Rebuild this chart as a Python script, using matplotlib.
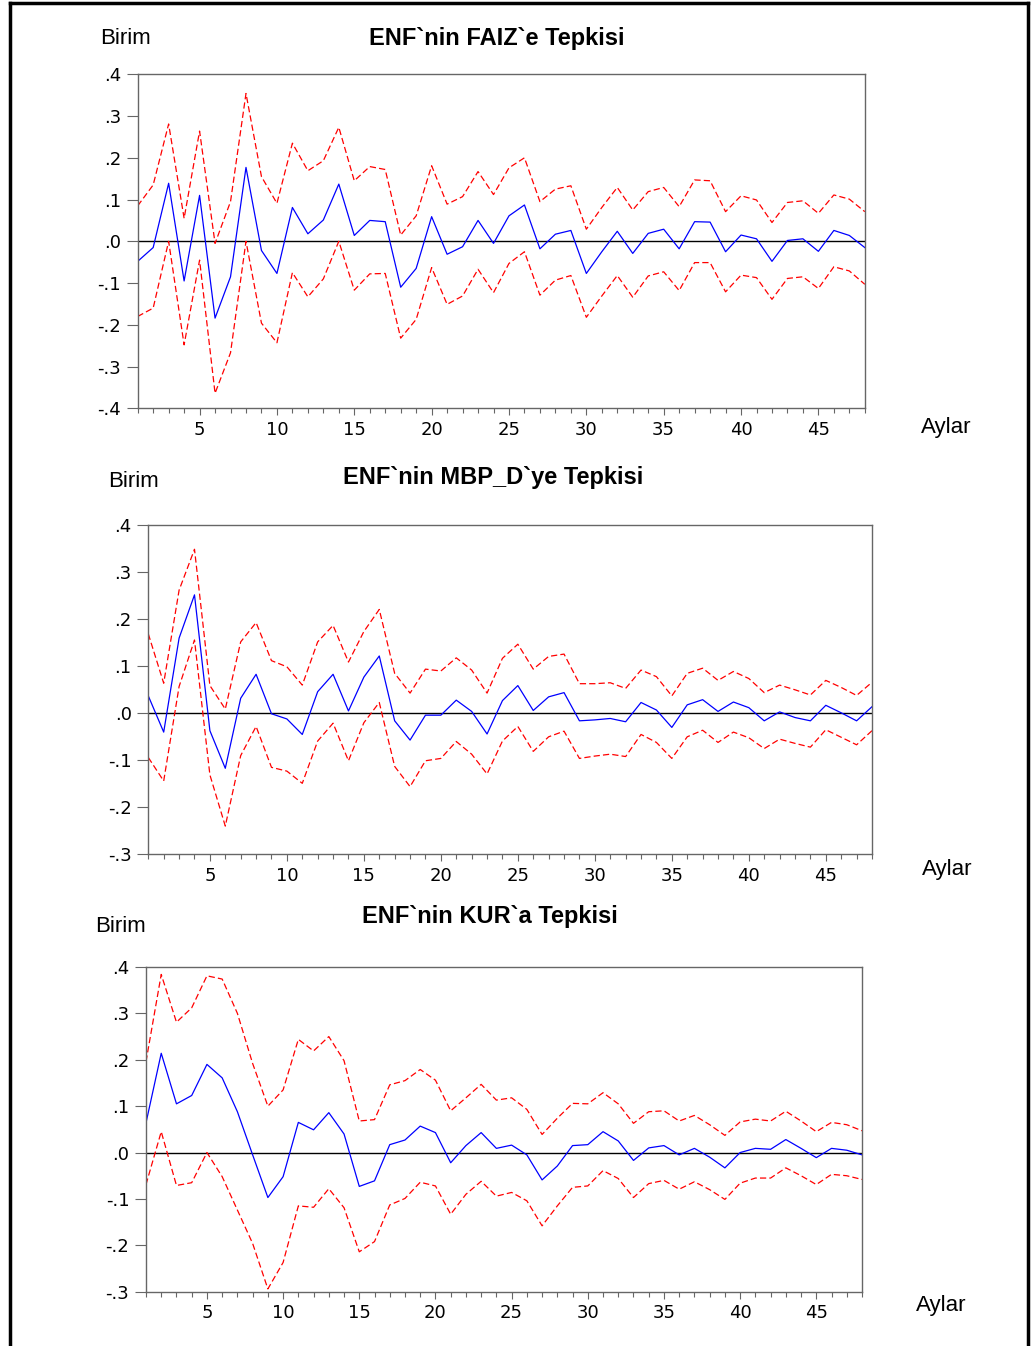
import numpy as np
import matplotlib.pyplot as plt
from matplotlib.lines import Line2D
from matplotlib.ticker import FixedLocator, FuncFormatter

plt.rcParams['font.family'] = ['DejaVu Sans']

# Aylar (months) 1..48
months = np.arange(1, 49)

# ENF'nin FAIZ'e Tepkisi
faiz_resp = [-0.048, -0.015, 0.139, -0.095, 0.110, -0.184, -0.085, 0.177, -0.022, -0.077,
             0.081, 0.018, 0.051, 0.137, 0.014, 0.050, 0.047, -0.110, -0.065, 0.059,
             -0.031, -0.013, 0.050, -0.005, 0.061, 0.087, -0.018, 0.017, 0.026, -0.077,
             -0.025, 0.024, -0.029, 0.019, 0.029, -0.018, 0.047, 0.046, -0.025, 0.015,
             0.006, -0.048, 0.002, 0.006, -0.024, 0.026, 0.014, -0.015]
faiz_upper = [0.085, 0.135, 0.281, 0.055, 0.264, -0.005, 0.095, 0.354, 0.155, 0.091,
              0.235, 0.169, 0.193, 0.273, 0.145, 0.179, 0.172, 0.015, 0.061, 0.181,
              0.089, 0.107, 0.167, 0.112, 0.176, 0.200, 0.095, 0.125, 0.133, 0.029,
              0.081, 0.129, 0.075, 0.119, 0.129, 0.083, 0.147, 0.145, 0.071, 0.109,
              0.099, 0.045, 0.093, 0.097, 0.067, 0.111, 0.101, 0.071]
faiz_lower = [-0.180, -0.160, 0.000, -0.248, -0.045, -0.364, -0.267, 0.000, -0.196, -0.243,
              -0.075, -0.133, -0.090, 0.000, -0.117, -0.078, -0.077, -0.232, -0.187, -0.063,
              -0.151, -0.131, -0.067, -0.123, -0.053, -0.025, -0.129, -0.093, -0.082, -0.182,
              -0.131, -0.082, -0.134, -0.083, -0.073, -0.118, -0.051, -0.051, -0.121, -0.081,
              -0.087, -0.139, -0.089, -0.085, -0.113, -0.061, -0.071, -0.103]

# ENF'nin MBP_D'ye Tepkisi
mbp_resp = [0.037, -0.040, 0.160, 0.252, -0.037, -0.117, 0.032, 0.083, -0.001, -0.012,
            -0.045, 0.046, 0.083, 0.005, 0.077, 0.122, -0.016, -0.057, -0.004, -0.004,
            0.028, 0.004, -0.044, 0.027, 0.059, 0.006, 0.035, 0.044, -0.016, -0.014,
            -0.011, -0.018, 0.023, 0.007, -0.030, 0.018, 0.029, 0.004, 0.024, 0.012,
            -0.016, 0.003, -0.009, -0.016, 0.017, 0.001, -0.016, 0.014]
mbp_upper = [0.169, 0.064, 0.262, 0.349, 0.059, 0.009, 0.152, 0.193, 0.112, 0.099,
             0.060, 0.152, 0.187, 0.109, 0.174, 0.221, 0.085, 0.043, 0.094, 0.090,
             0.118, 0.092, 0.043, 0.117, 0.147, 0.094, 0.121, 0.126, 0.063, 0.063,
             0.065, 0.053, 0.092, 0.078, 0.037, 0.085, 0.096, 0.070, 0.089, 0.074,
             0.044, 0.060, 0.050, 0.039, 0.070, 0.055, 0.038, 0.066]
mbp_lower = [-0.094, -0.144, 0.057, 0.156, -0.131, -0.240, -0.090, -0.028, -0.115, -0.123,
             -0.149, -0.059, -0.021, -0.101, -0.020, 0.023, -0.113, -0.156, -0.101, -0.096,
             -0.060, -0.087, -0.129, -0.059, -0.028, -0.081, -0.050, -0.038, -0.096, -0.091,
             -0.087, -0.092, -0.045, -0.062, -0.096, -0.050, -0.036, -0.062, -0.040, -0.052,
             -0.075, -0.055, -0.064, -0.072, -0.035, -0.051, -0.067, -0.037]

# ENF'nin KUR'a Tepkisi
kur_resp = [0.064, 0.214, 0.105, 0.123, 0.190, 0.161, 0.088, -0.005, -0.097, -0.052,
            0.065, 0.049, 0.086, 0.040, -0.073, -0.061, 0.017, 0.027, 0.057, 0.043,
            -0.022, 0.015, 0.043, 0.009, 0.016, -0.005, -0.059, -0.029, 0.015, 0.017,
            0.045, 0.025, -0.017, 0.010, 0.015, -0.005, 0.009, -0.010, -0.033, 0.000,
            0.009, 0.007, 0.028, 0.009, -0.011, 0.009, 0.005, -0.005]
kur_upper = [0.196, 0.384, 0.281, 0.312, 0.381, 0.374, 0.300, 0.192, 0.100, 0.135,
             0.244, 0.219, 0.250, 0.198, 0.068, 0.071, 0.146, 0.155, 0.179, 0.156,
             0.090, 0.118, 0.147, 0.113, 0.118, 0.093, 0.039, 0.074, 0.106, 0.105,
             0.129, 0.105, 0.063, 0.088, 0.090, 0.068, 0.080, 0.060, 0.037, 0.066,
             0.072, 0.068, 0.089, 0.068, 0.045, 0.065, 0.060, 0.047]
kur_lower = [-0.069, 0.045, -0.071, -0.065, 0.000, -0.052, -0.124, -0.196, -0.294, -0.237,
             -0.115, -0.118, -0.078, -0.119, -0.214, -0.192, -0.113, -0.099, -0.064, -0.072,
             -0.133, -0.090, -0.062, -0.094, -0.086, -0.104, -0.158, -0.115, -0.075, -0.072,
             -0.039, -0.056, -0.097, -0.067, -0.060, -0.079, -0.063, -0.080, -0.101, -0.066,
             -0.055, -0.055, -0.033, -0.050, -0.069, -0.047, -0.050, -0.058]

titles = ["ENF`nin FAIZ`e Tepkisi", "ENF`nin MBP_D`ye Tepkisi", "ENF`nin KUR`a Tepkisi"]
panels = [(faiz_resp, faiz_upper, faiz_lower),
          (mbp_resp, mbp_upper, mbp_lower),
          (kur_resp, kur_upper, kur_lower)]
ylims = [(-0.4, 0.4), (-0.3, 0.4), (-0.3, 0.4)]

W, H = 1035, 1346
fig = plt.figure(figsize=(W / 100, H / 100), dpi=100)


def box(x0, x1, ytop, ybot):
    return [x0 / W, 1 - ybot / H, (x1 - x0) / W, (ybot - ytop) / H]


# axes placement (pixels) and label positions
ax_boxes = [box(137.7, 864.8, 74.3, 408.3),
            box(148.3, 872.0, 525.3, 854.3),
            box(146.0, 862.0, 967.0, 1291.7)]
title_pos = [(497, 38), (493, 477), (490, 917)]
birim_pos = [(100, 38), (108, 481), (95, 927)]
aylar_pos = [(921, 428), (922, 870), (916, 1305)]

spine_col = '#666666'


def yfmt(v, pos):
    s = '%.1f' % v
    s = s.replace('0.', '.')
    if s == '-.0':
        s = '.0'
    return s


for k in range(3):
    ax = fig.add_axes(ax_boxes[k])
    resp, up, lo = panels[k]
    ax.axhline(0, color='black', lw=1.0, zorder=1)
    ax.plot(months, up, color='#ff0000', lw=0.9, dashes=(5, 2.5))
    ax.plot(months, lo, color='#ff0000', lw=0.9, dashes=(5, 2.5))
    ax.plot(months, resp, color='#0000ff', lw=0.9)
    ax.set_xlim(1, 48)
    ax.set_ylim(*ylims[k])
    ax.yaxis.set_major_locator(FixedLocator(np.round(np.arange(ylims[k][0], ylims[k][1] + 0.01, 0.1), 1)))
    ax.yaxis.set_major_formatter(FuncFormatter(yfmt))
    ax.xaxis.set_major_locator(FixedLocator(np.arange(5, 49, 5)))
    ax.xaxis.set_minor_locator(FixedLocator(months))
    for sp in ax.spines.values():
        sp.set_color(spine_col)
        sp.set_linewidth(1.0)
    ax.tick_params(axis='y', direction='out', length=8, width=0.8, color=spine_col,
                   labelsize=13, pad=4)
    ax.tick_params(axis='x', which='major', direction='out', length=5, width=0.8,
                   color=spine_col, labelsize=13, pad=4)
    ax.tick_params(axis='x', which='minor', direction='out', length=3.5, width=0.8,
                   color=spine_col)

    tx, ty = title_pos[k]
    fig.text(tx / W, 1 - ty / H, titles[k], ha='center', va='center',
             fontsize=17, fontweight='bold', family='Liberation Sans')
    bx, by = birim_pos[k]
    fig.text(bx / W, 1 - by / H, 'Birim', ha='left', va='center',
             fontsize=16, family='Liberation Sans')
    axx, axy = aylar_pos[k]
    fig.text(axx / W, 1 - axy / H, 'Aylar', ha='left', va='center',
             fontsize=16, family='Liberation Sans')

# outer frame
fig.add_artist(Line2D([10 / W, 10 / W], [0, 1 - 3 / H], color='black', lw=2.5,
                      transform=fig.transFigure))
fig.add_artist(Line2D([1028 / W, 1028 / W], [0, 1 - 3 / H], color='black', lw=2.5,
                      transform=fig.transFigure))
fig.add_artist(Line2D([10 / W, 1028 / W], [1 - 3 / H, 1 - 3 / H], color='black', lw=2.5,
                      transform=fig.transFigure))

fig.savefig('out.png', dpi=100)
